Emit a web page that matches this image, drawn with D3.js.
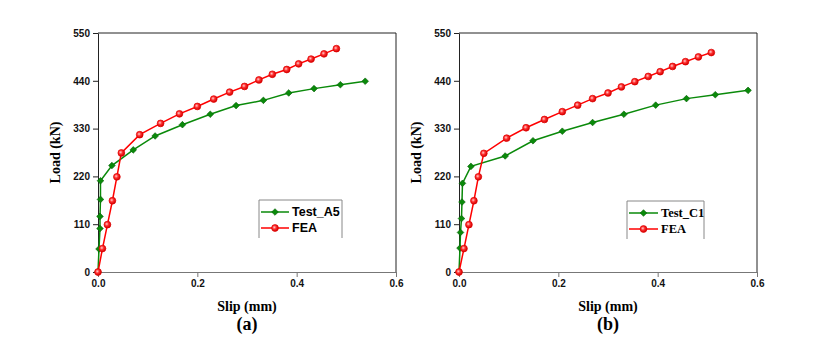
<!DOCTYPE html>
<html>
<head>
<meta charset="utf-8">
<script src="https://cdn.jsdelivr.net/npm/d3@7"></script>
<style>
  body { margin: 0; background: #fff; }
  svg { display: block; }
</style>
</head>
<body>
<div id="app"></div>
<script>
// panel (a) Test_A5
const slipA5 = [0, 0.002, 0.004, 0.004, 0.005, 0.005, 0.028, 0.071, 0.115, 0.170, 0.226, 0.278, 0.333, 0.384, 0.435, 0.488, 0.538]
const loadA5 = [0, 53, 100, 128, 167, 210, 245, 281, 313, 339, 363, 383, 395, 412, 422, 431, 439]
// panel (a) FEA
const slipFEA_a = [0, 0.009, 0.019, 0.029, 0.038, 0.047, 0.084, 0.126, 0.164, 0.200, 0.233, 0.265, 0.295, 0.324, 0.351, 0.380, 0.404, 0.429, 0.455, 0.480]
const loadFEA_a = [0, 54, 109, 164, 219, 274, 316, 342, 364, 381, 398, 414, 427, 442, 455, 466, 479, 490, 502, 514]
// panel (b) Test_C1
const slipC1 = [0, 0.002, 0.003, 0.005, 0.006, 0.007, 0.024, 0.093, 0.149, 0.208, 0.269, 0.332, 0.396, 0.458, 0.516, 0.582]
const loadC1 = [0, 55, 91, 123, 161, 204, 243, 267, 302, 324, 344, 363, 384, 399, 408, 418]
// panel (b) FEA
const slipFEA_b = [0, 0.010, 0.020, 0.030, 0.039, 0.050, 0.096, 0.135, 0.172, 0.208, 0.239, 0.269, 0.300, 0.327, 0.354, 0.381, 0.405, 0.430, 0.456, 0.482, 0.508]
const loadFEA_b = [0, 54, 109, 164, 219, 273, 308, 332, 351, 369, 384, 399, 412, 426, 438, 450, 461, 473, 484, 495, 505]

const yTicks = [0, 110, 220, 330, 440, 550]
const xTicks = [0, 0.2, 0.4, 0.6]

const w = 816
const h = 356
const sans = '"Liberation Sans", Arial, sans-serif'
const serif = '"Liberation Serif", "Times New Roman", serif'

const svg = d3.select('#app').append('svg')
  .attr('width', w)
  .attr('height', h)

// red sphere marker gradient
const grad = svg.append('defs').append('radialGradient')
  .attr('id', 'redball')
  .attr('cx', '40%').attr('cy', '40%').attr('r', '60%')
grad.append('stop').attr('offset', '0%').attr('stop-color', '#ffd0d0')
grad.append('stop').attr('offset', '45%').attr('stop-color', '#ff3030')
grad.append('stop').attr('offset', '100%').attr('stop-color', '#d00000')

const green = '#0a8a0a'
const red = '#ff0000'

const drawPanel = function (opt) {
  const x = d3.scaleLinear().domain([0, 0.6]).range([opt.left, opt.right])
  const y = d3.scaleLinear().domain([0, 550]).range([272, 33])
  const g = svg.append('g')

  // frame (top and right)
  g.append('path')
    .attr('d', `M${x(0)},${y(550)}H${x(0.6)}V${y(0)}`)
    .attr('fill', 'none')
    .attr('stroke', '#222')
    .attr('stroke-width', 1)

  const yAxis = g.append('g')
    .attr('transform', `translate(${x(0)},0)`)
    .call(d3.axisLeft(y).tickValues(yTicks).tickSize(5).tickSizeOuter(0).tickPadding(3).tickFormat(d3.format('d')))
  const xAxis = g.append('g')
    .attr('transform', `translate(0,${y(0)})`)
    .call(d3.axisBottom(x).tickValues(xTicks).tickSize(5).tickSizeOuter(0).tickPadding(3).tickFormat(d3.format('.1f')))
  yAxis.selectAll('path, line').attr('stroke', '#222')
  xAxis.selectAll('path, line').attr('stroke', '#777')
  g.selectAll('.tick text')
    .style('font-family', sans)
    .style('font-weight', 'bold')
    .style('font-size', '10px')
    .attr('fill', '#111')

  // axis titles
  g.append('text')
    .attr('transform', `translate(${opt.left - 43},${(y(0) + y(550)) / 2}) rotate(-90)`)
    .attr('text-anchor', 'middle')
    .attr('dy', '0.35em')
    .style('font-family', serif).style('font-weight', 'bold').style('font-size', '14px')
    .text('Load (kN)')
  g.append('text')
    .attr('x', (opt.left + opt.right) / 2)
    .attr('y', 311)
    .attr('text-anchor', 'middle')
    .style('font-family', serif).style('font-weight', 'bold').style('font-size', '14px')
    .text('Slip (mm)')
  g.append('text')
    .attr('x', (opt.left + opt.right) / 2)
    .attr('y', 330)
    .attr('text-anchor', 'middle')
    .style('font-family', serif).style('font-weight', 'bold').style('font-size', '18px')
    .text(opt.tag)

  const line = d3.line().x(d => x(d[0])).y(d => y(d[1]))
  const test = d3.zip(opt.testSlip, opt.testLoad)
  const fea = d3.zip(opt.feaSlip, opt.feaLoad)

  g.append('path').datum(test)
    .attr('d', line).attr('fill', 'none').attr('stroke', green).attr('stroke-width', 1.5)
  g.append('path').datum(fea)
    .attr('d', line).attr('fill', 'none').attr('stroke', red).attr('stroke-width', 1.5)

  const diamond = d3.symbol().type(d3.symbolSquare).size(22)
  g.selectAll('.dia').data(test).enter().append('path')
    .attr('d', diamond)
    .attr('transform', d => `translate(${x(d[0])},${y(d[1])}) rotate(45)`)
    .attr('fill', green).attr('stroke', '#066006').attr('stroke-width', 0.6)
  g.selectAll('.ball').data(fea).enter().append('circle')
    .attr('cx', d => x(d[0])).attr('cy', d => y(d[1])).attr('r', 3.4)
    .attr('fill', 'url(#redball)').attr('stroke', '#e00000').attr('stroke-width', 0.7)

  // legend
  const lg = g.append('g')
  const lx = opt.legX
  const ly = opt.legY
  lg.append('path')
    .attr('d', `M${lx},${ly + 38}V${ly}H${lx + opt.legW}V${ly + 38}`)
    .attr('fill', 'none').attr('stroke', '#888').attr('stroke-width', 1)
  const items = [
    { name: opt.testName, color: green, dy: 12 },
    { name: 'FEA', color: red, dy: 28 }
  ]
  items.forEach(function (it, i) {
    lg.append('line')
      .attr('x1', lx + 2).attr('x2', lx + opt.lineW)
      .attr('y1', ly + it.dy).attr('y2', ly + it.dy)
      .attr('stroke', it.color).attr('stroke-width', 1.5)
    const mx = lx + 2 + (opt.lineW - 2) / 2
    if (i === 0) {
      lg.append('path').attr('d', diamond)
        .attr('transform', `translate(${mx},${ly + it.dy}) rotate(45)`)
        .attr('fill', green).attr('stroke', '#066006').attr('stroke-width', 0.6)
    } else {
      lg.append('circle').attr('cx', mx).attr('cy', ly + it.dy).attr('r', 3.4)
        .attr('fill', 'url(#redball)').attr('stroke', '#e00000').attr('stroke-width', 0.7)
    }
    lg.append('text')
      .attr('x', lx + opt.lineW + 3)
      .attr('y', ly + it.dy)
      .attr('dy', '0.35em')
      .style('font-family', opt.legFont)
      .style('font-weight', 'bold')
      .style('font-size', '12.5px')
      .text(it.name)
  })
}

drawPanel({
  left: 98, right: 396, tag: '(a)',
  testSlip: slipA5, testLoad: loadA5, feaSlip: slipFEA_a, feaLoad: loadFEA_a,
  testName: 'Test_A5', legX: 259, legY: 200, legW: 83, lineW: 30, legFont: sans
})
drawPanel({
  left: 459, right: 757, tag: '(b)',
  testSlip: slipC1, testLoad: loadC1, feaSlip: slipFEA_b, feaLoad: loadFEA_b,
  testName: 'Test_C1', legX: 627, legY: 201, legW: 77, lineW: 31, legFont: serif
})
</script>
</body>
</html>
